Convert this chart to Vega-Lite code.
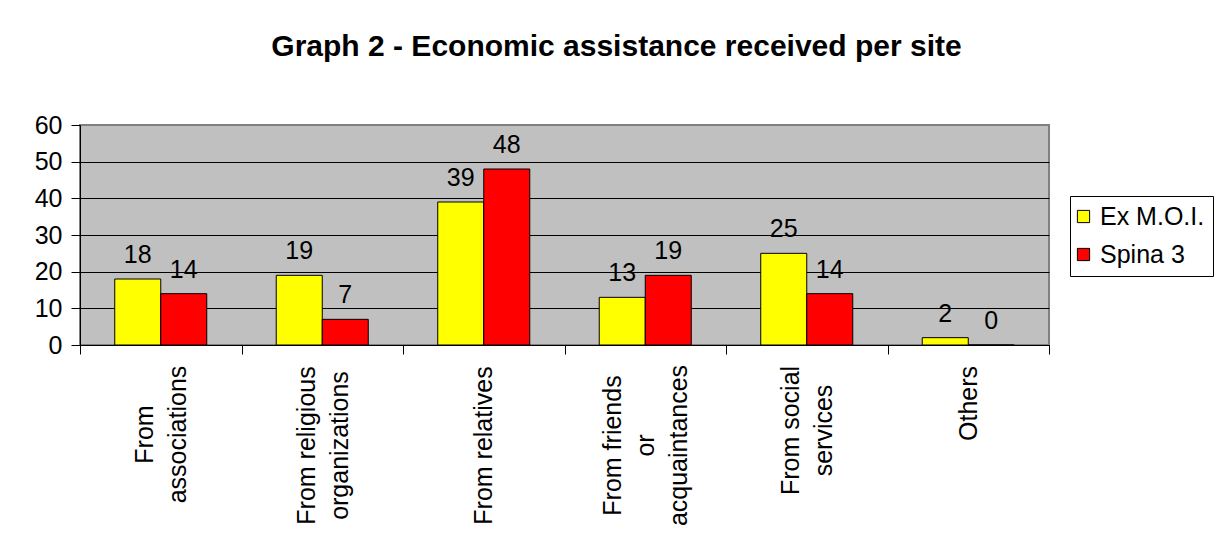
{
  "$schema": "https://vega.github.io/schema/vega-lite/v6.json",
  "autosize": {"type": "none"},
  "width": 969,
  "height": 220,
  "padding": {"left": 80, "top": 125, "right": 171, "bottom": 201},
  "background": "white",
  "title": {
    "text": "Graph 2 - Economic assistance received per site",
    "font": "Liberation Sans",
    "fontSize": 30,
    "fontWeight": "bold",
    "color": "black",
    "anchor": "middle",
    "dx": 52,
    "offset": 51
  },
  "data": {
    "values": [
      {"category": "From associations", "site": "Ex M.O.I.", "value": 18},
      {"category": "From associations", "site": "Spina 3", "value": 14},
      {"category": "From religious organizations", "site": "Ex M.O.I.", "value": 19},
      {"category": "From religious organizations", "site": "Spina 3", "value": 7},
      {"category": "From relatives", "site": "Ex M.O.I.", "value": 39},
      {"category": "From relatives", "site": "Spina 3", "value": 48},
      {"category": "From friends or acquaintances", "site": "Ex M.O.I.", "value": 13},
      {"category": "From friends or acquaintances", "site": "Spina 3", "value": 19},
      {"category": "From social services", "site": "Ex M.O.I.", "value": 25},
      {"category": "From social services", "site": "Spina 3", "value": 14},
      {"category": "Others", "site": "Ex M.O.I.", "value": 2},
      {"category": "Others", "site": "Spina 3", "value": 0}
    ]
  },
  "encoding": {
    "x": {
      "field": "category",
      "type": "nominal",
      "sort": null,
      "scale": {"paddingInner": 0, "paddingOuter": 0},
      "axis": {
        "title": null,
        "labelAngle": 270,
        "labelAlign": "center",
        "labelBaseline": "middle",
        "labelFontSize": 25,
        "labelLineHeight": 33,
        "labelColor": "black",
        "tickBand": "extent",
        "tickSize": 9,
        "tickColor": "black",
        "domainColor": "black",
        "labelPadding": {
          "condition": [
            {"test": "datum.value === 'Others'", "value": 49},
            {"test": "datum.value === 'From associations'", "value": 80},
            {"test": "datum.value === 'From social services'", "value": 76}
          ],
          "value": 91
        },
        "labelOffset": {
          "condition": [
            {"test": "datum.value === 'From friends or acquaintances'", "value": -33},
            {"test": "datum.value === 'From relatives' || datum.value === 'Others'", "value": 0}
          ],
          "value": -16
        },
        "labelExpr": "datum.value === 'From associations' ? ['From','associations'] : datum.value === 'From religious organizations' ? ['From religious','organizations'] : datum.value === 'From friends or acquaintances' ? ['From friends','or','acquaintances'] : datum.value === 'From social services' ? ['From social','services'] : datum.label"
      }
    },
    "xOffset": {
      "field": "site",
      "type": "nominal",
      "scale": {"paddingInner": 0, "paddingOuter": 0.755}
    },
    "y": {
      "field": "value",
      "type": "quantitative",
      "scale": {"domain": [0, 60], "nice": false},
      "axis": {
        "title": null,
        "values": [0, 10, 20, 30, 40, 50, 60],
        "labelFontSize": 25,
        "labelColor": "black",
        "labelPadding": 9,
        "tickSize": 9,
        "tickColor": "black",
        "domainColor": "black",
        "grid": true,
        "gridColor": {"condition": {"test": "datum.value === 60", "value": "#808080"}, "value": "black"},
        "gridWidth": 1,
        "gridOpacity": 1
      }
    }
  },
  "layer": [
    {
      "mark": {"type": "bar", "stroke": "black", "strokeWidth": 1},
      "encoding": {
        "color": {
          "field": "site",
          "type": "nominal",
          "scale": {"domain": ["Ex M.O.I.", "Spina 3"], "range": ["#FFFF00", "#FF0000"]},
          "legend": {
            "title": null,
            "orient": "none",
            "legendX": 990,
            "legendY": 71,
            "strokeColor": "black",
            "fillColor": "white",
            "padding": 8,
            "symbolType": "square",
            "symbolSize": 150,
            "symbolStrokeColor": "black",
            "symbolStrokeWidth": 1,
            "symbolOpacity": 1,
            "symbolOffset": -7,
            "labelFontSize": 25,
            "labelColor": "black",
            "labelOffset": 4,
            "rowPadding": 12
          }
        }
      }
    },
    {
      "mark": {"type": "text", "fontSize": 25, "color": "black", "baseline": "alphabetic", "dy": -16},
      "encoding": {
        "text": {"field": "value", "type": "quantitative"}
      }
    }
  ],
  "config": {
    "font": "Liberation Sans",
    "view": {"fill": "#C0C0C0", "stroke": "#808080", "strokeWidth": 2},
    "axis": {"labelFont": "Liberation Sans", "domainWidth": 1, "tickWidth": 1}
  }
}
